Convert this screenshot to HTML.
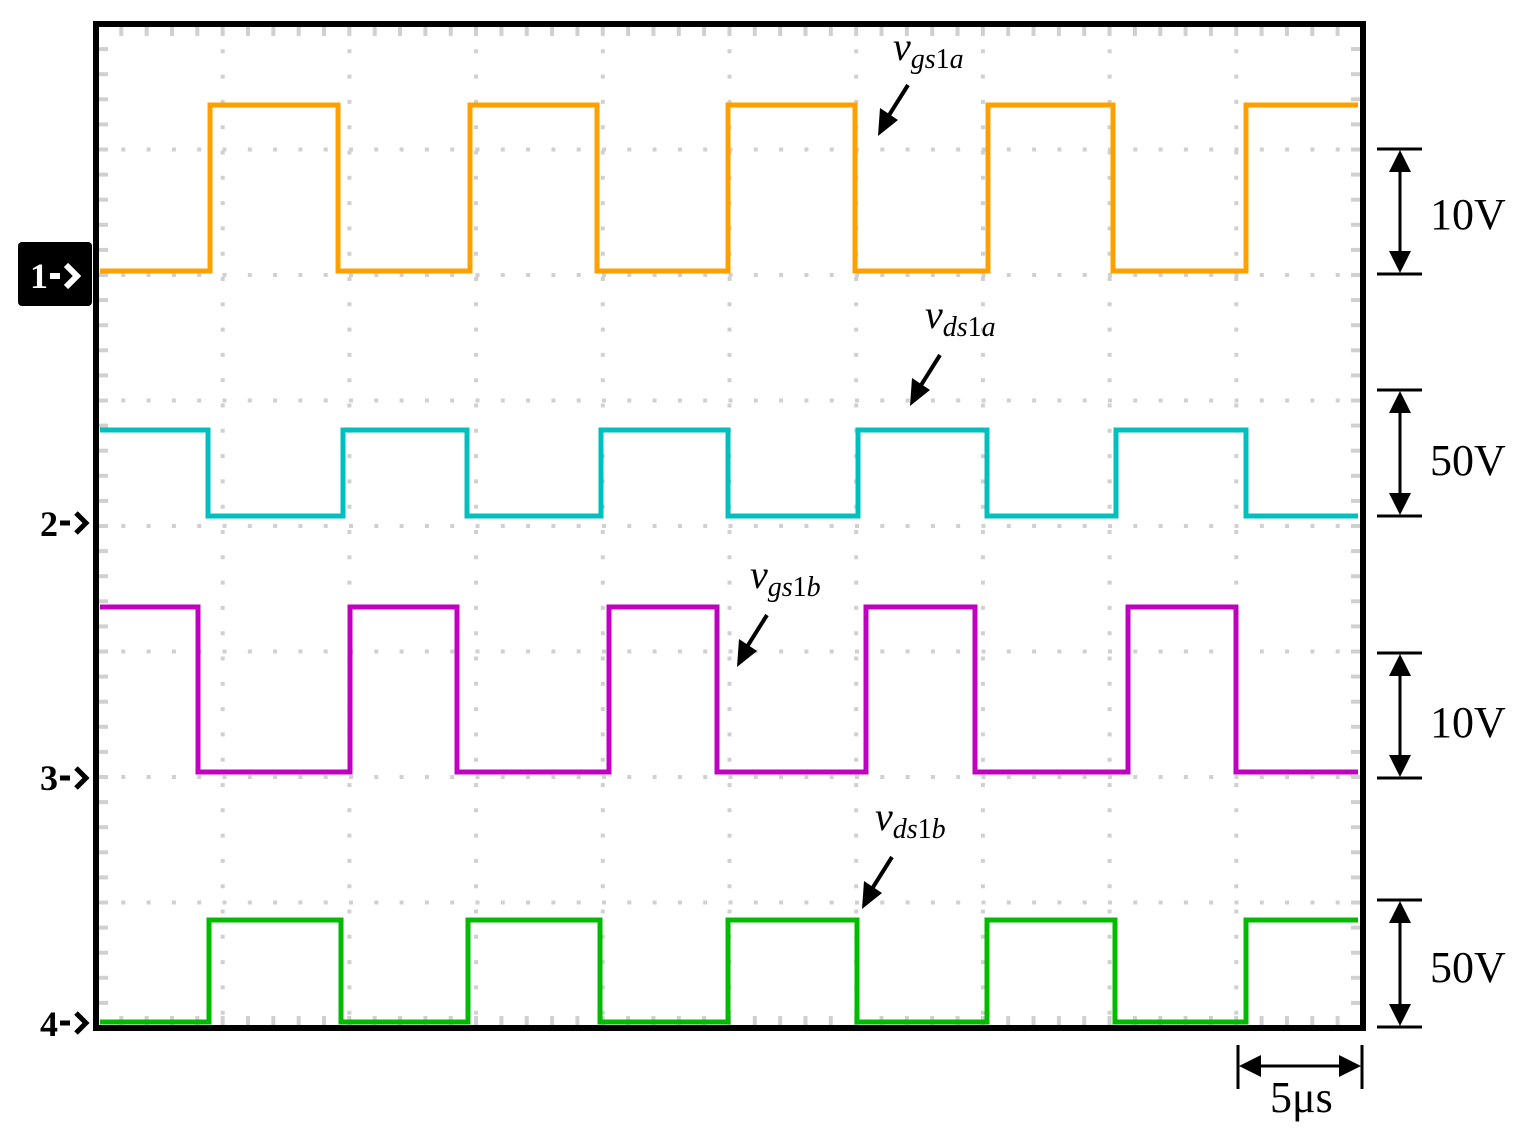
<!DOCTYPE html>
<html><head><meta charset="utf-8"><style>
html,body{margin:0;padding:0;background:#fff;}
svg{display:block;}
text{font-family:"Liberation Serif",serif;}
</style></head><body>
<svg id="s" width="1528" height="1135" viewBox="0 0 1528 1135" xmlns="http://www.w3.org/2000/svg">
<defs>
<marker id="ah" markerWidth="10" markerHeight="10" refX="8" refY="5" orient="auto" markerUnits="userSpaceOnUse">
<path d="M0,0 L10,5 L0,10 z" fill="#000"/></marker>
</defs>
<g id="grid"></g>
<g id="traces" fill="none" stroke-width="5" stroke-linejoin="miter"></g>
<rect x="96" y="24" width="1267" height="1004" fill="none" stroke="#000" stroke-width="6"/>
<!-- channel markers -->
<rect x="18" y="242" width="74" height="64" rx="4" fill="#000"/>
<text x="30" y="288" font-size="36" font-weight="bold" fill="#fff">1</text>
<path d="M50,276 h10 M66,265 l11,11 l-11,11" stroke="#fff" stroke-width="6" fill="none"/>
<g fill="#000" font-size="36" font-weight="bold">
<text x="40" y="536">2</text><text x="40" y="790">3</text><text x="40" y="1036">4</text>
</g>
<g stroke="#000" stroke-width="5" fill="none">
<path d="M60,523 h10 M76,513 l10,10 l-10,10"/>
<path d="M60,778 h10 M76,768 l10,10 l-10,10"/>
<path d="M60,1023 h10 M76,1013 l10,10 l-10,10"/>
</g>
<!-- scale bars -->
<g stroke="#000" stroke-width="3" fill="none">
<path d="M1377,149 h45 M1377,274 h45 M1400,170 v84"/>
<path d="M1377,390 h45 M1377,516 h45 M1400,411 v84"/>
<path d="M1377,653 h45 M1377,778 h45 M1400,674 v84"/>
<path d="M1377,900 h45 M1377,1027 h45 M1400,921 v86"/>
<path d="M1238,1045 v44 M1362,1045 v44 M1258,1066 h84"/>
</g>
<g fill="#000">
<path d="M1400,150 l-11,22 h22z M1400,273 l-11,-22 h22z"/>
<path d="M1400,391 l-11,22 h22z M1400,515 l-11,-22 h22z"/>
<path d="M1400,654 l-11,22 h22z M1400,777 l-11,-22 h22z"/>
<path d="M1400,901 l-11,22 h22z M1400,1026 l-11,-22 h22z"/>
<path d="M1239,1066 l22,-11 v22z M1361,1066 l-22,-11 v22z"/>
</g>
<g font-size="44" fill="#000">
<text x="1430" y="229">10V</text>
<text x="1430" y="475">50V</text>
<text x="1430" y="737">10V</text>
<text x="1430" y="982">50V</text>
<text x="1270" y="1112">5μs</text>
</g>
<!-- annotations -->
<g font-size="40" font-style="italic" fill="#000">
<text x="893" y="60">v<tspan font-size="28" dy="8">gs</tspan><tspan font-size="28" font-style="normal">1</tspan><tspan font-size="28">a</tspan></text>
<text x="925" y="328">v<tspan font-size="28" dy="8">ds</tspan><tspan font-size="28" font-style="normal">1</tspan><tspan font-size="28">a</tspan></text>
<text x="750" y="588">v<tspan font-size="28" dy="8">gs</tspan><tspan font-size="28" font-style="normal">1</tspan><tspan font-size="28">b</tspan></text>
<text x="875" y="830">v<tspan font-size="28" dy="8">ds</tspan><tspan font-size="28" font-style="normal">1</tspan><tspan font-size="28">b</tspan></text>
</g>
<g stroke="#000" stroke-width="4">
<line x1="908" y1="85" x2="886" y2="120"/>
<line x1="940" y1="355" x2="918" y2="390"/>
<line x1="767" y1="615" x2="745" y2="650"/>
<line x1="892" y1="857" x2="870" y2="892"/>
</g>
<g fill="#000">
<path d="M878,136 l2,-28 l18,12z"/>
<path d="M910,406 l2,-28 l18,12z"/>
<path d="M737,667 l2,-28 l18,12z"/>
<path d="M862,909 l2,-28 l18,12z"/>
</g>
</svg>
<script>
var NS="http://www.w3.org/2000/svg";
function el(p,t,a){var e=document.createElementNS(NS,t);for(var k in a)e.setAttribute(k,a[k]);p.appendChild(e);return e;}
var g=document.getElementById("grid");
var L=96,R=1363,T=24,B=1028,dx=126.7,dy=125.5;
for(var i=1;i<10;i++){var x=L+dx*i;el(g,"line",{x1:x,y1:T,x2:x,y2:B,stroke:"#d0d0d0","stroke-width":4,"stroke-dasharray":"4 21.3"});}
for(var j=1;j<8;j++){var y=T+dy*j;el(g,"line",{x1:L,y1:y,x2:R,y2:y,stroke:"#d0d0d0","stroke-width":4,"stroke-dasharray":"4 21.3"});}
// edge minor ticks
for(var x=L+25.3;x<R;x+=25.34){el(g,"line",{x1:x,y1:T+3,x2:x,y2:T+12,stroke:"#d0d0d0","stroke-width":4});el(g,"line",{x1:x,y1:B-12,x2:x,y2:B-3,stroke:"#d0d0d0","stroke-width":4});}
for(var y=T+25.1;y<B;y+=25.1){el(g,"line",{x1:L+3,y1:y,x2:L+12,y2:y,stroke:"#d0d0d0","stroke-width":4});el(g,"line",{x1:R-12,y1:y,x2:R-3,y2:y,stroke:"#d0d0d0","stroke-width":4});}
var tr=document.getElementById("traces");
function wave(color,lo,hi,startHigh,edges){
 var y=startHigh?hi:lo,d="M100,"+y;
 edges.forEach(function(x){d+=" H"+x;y=(y==hi)?lo:hi;d+=" V"+y;});
 d+=" H1358";el(tr,"path",{d:d,stroke:color});
}
wave("#ffa000",271,105,false,[210,338,470,597,728,855,988,1113,1246]);
wave("#00bfbf",516,430,true,[208,343,467,601,728,858,987,1116,1246]);
wave("#c000c0",772,607,true,[198,350,457,609,717,866,975,1128,1236]);
wave("#00bb00",1022,920,false,[209,341,468,600,728,857,987,1115,1246]);
</script>
</body></html>
